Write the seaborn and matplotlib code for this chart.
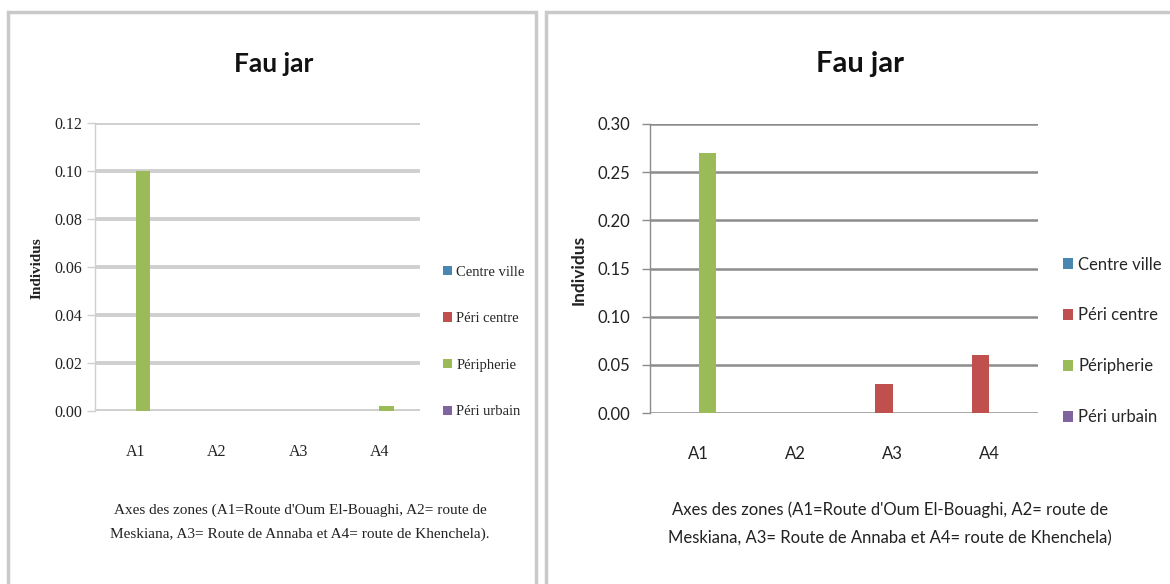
import numpy as np
import pandas as pd
import matplotlib
matplotlib.use("Agg")
import matplotlib.pyplot as plt
from matplotlib.patches import Rectangle, Patch
import seaborn as sns

# Zones along the x axis and the four residential series
zones = ["A1", "A2", "A3", "A4"]
series = ["Centre ville", "Péri centre", "Péripherie", "Péri urbain"]
colors = ["#4A86B2", "#C0504D", "#9BBB59", "#8064A2"]

# First chart (scale up to 0.12)
left_centre_ville = [0.0, 0.0, 0.0, 0.0]
left_peri_centre = [0.0, 0.0, 0.0, 0.0]
left_peripherie = [0.10, 0.0, 0.0, 0.002]
left_peri_urbain = [0.0, 0.0, 0.0, 0.0]
left_ticks = [0.00, 0.02, 0.04, 0.06, 0.08, 0.10, 0.12]

# Second chart (scale up to 0.30)
right_centre_ville = [0.0, 0.0, 0.0, 0.0]
right_peri_centre = [0.0, 0.0, 0.03, 0.06]
right_peripherie = [0.27, 0.0, 0.0, 0.0]
right_peri_urbain = [0.0, 0.0, 0.0, 0.0]
right_ticks = [0.00, 0.05, 0.10, 0.15, 0.20, 0.25, 0.30]

title = "Fau jar"
ylabel = "Individus"
xlabel = ("Axes des zones (A1=Route d'Oum El-Bouaghi, A2= route de\n"
          "Meskiana, A3= Route de Annaba et A4= route de Khenchela)")


def long_frame(cv, pc, pp, pu):
    rows = []
    for name, vals in zip(series, [cv, pc, pp, pu]):
        for z, v in zip(zones, vals):
            rows.append({"zone": z, "serie": name, "valeur": v})
    return pd.DataFrame(rows)


sns.set_style("white")
narrow = ["Liberation Sans Narrow", "Lato", "DejaVu Sans"]
serif = ["Liberation Serif", "DejaVu Serif"]
plt.rcParams["font.family"] = narrow

W, H = 1170, 584
fig = plt.figure(figsize=(W / 100, H / 100), dpi=100)
fig.patch.set_facecolor("white")

# Panel frames
fig.add_artist(Rectangle((8 / W, -0.05), (536 - 8) / W, 1.05 - 12 / H,
                         transform=fig.transFigure, fill=False,
                         edgecolor="#c9c9c9", lw=2.5))
fig.add_artist(Rectangle((546 / W, -0.05), (1185 - 546) / W, 1.05 - 12 / H,
                         transform=fig.transFigure, fill=False,
                         edgecolor="#c9c9c9", lw=2.5))


def draw_panel(ax, df, ticks, grid_color, grid_lw, fam, tick_size, ypad):
    sns.barplot(data=df, x="zone", y="valeur", hue="serie", hue_order=series,
                palette=colors, width=0.72, saturation=1, linewidth=0,
                legend=False, ax=ax)
    ax.set_ylim(ticks[0], ticks[-1])
    ax.set_yticks(ticks)
    ax.set_yticklabels([f"{t:.2f}" for t in ticks], family=fam,
                       fontsize=tick_size, color="#222222")
    ax.set_xticks(range(len(zones)))
    ax.set_xticklabels(zones, family=fam, fontsize=tick_size, color="#222222")
    ax.yaxis.grid(True, color=grid_color, lw=grid_lw)
    ax.set_axisbelow(True)
    for s in ["top", "right", "bottom"]:
        ax.spines[s].set_visible(False)
    ax.spines["left"].set_color(grid_color)
    ax.spines["left"].set_linewidth(1.0)
    ax.tick_params(axis="y", which="major", left=True, length=6,
                   color=grid_color, width=1.0, pad=ypad)
    ax.tick_params(axis="x", length=0, pad=24)
    ax.set_xlabel("")
    ax.set_ylabel("")


# Left chart
axL = fig.add_axes([95 / W, 1 - 411 / H, 325 / W, 288 / H])
draw_panel(axL, long_frame(left_centre_ville, left_peri_centre,
                           left_peripherie, left_peri_urbain),
           left_ticks, "#cfcfcf", 2.8, serif, 11.5, 3)

# Right chart
axR = fig.add_axes([650 / W, 1 - 413 / H, 388 / W, 289 / H])
draw_panel(axR, long_frame(right_centre_ville, right_peri_centre,
                           right_peripherie, right_peri_urbain),
           right_ticks, "#8c8c8c", 1.8, narrow, 12, 8)

# Titles
fig.text(274 / W, 1 - 64 / H, title, ha="center", va="center",
         fontsize=19, fontweight="bold", family=narrow, color="#111111")
fig.text(860 / W, 1 - 64 / H, title, ha="center", va="center",
         fontsize=21, fontweight="bold", family=narrow, color="#111111")

# Y labels
fig.text(37 / W, 1 - 268 / H, ylabel, rotation=90, ha="center", va="center",
         fontsize=11, fontweight="bold", family=serif, color="#222222")
fig.text(579 / W, 1 - 270 / H, ylabel, rotation=90, ha="center", va="center",
         fontsize=12.5, fontweight="bold", family=narrow, color="#222222")

# X labels
fig.text(300 / W, 1 - 522 / H, xlabel + ".", ha="center", va="center",
         fontsize=11, family=serif, color="#222222", linespacing=2.0,
         multialignment="center")
fig.text(890 / W, 1 - 524 / H, xlabel, ha="center", va="center",
         fontsize=12, family=narrow, color="#222222", linespacing=1.9,
         multialignment="center")

# Legends
handles = [Patch(facecolor=c, edgecolor="none") for c in colors]
axL.legend(handles, series, loc="center left",
           bbox_to_anchor=(443 / W, 1 - 342 / H), bbox_transform=fig.transFigure,
           frameon=False, handlelength=0.6, handleheight=0.6, handletextpad=0.3,
           borderpad=0, borderaxespad=0, labelspacing=2.3,
           prop={"family": serif, "size": 10.5})
axR.legend(handles, series, loc="center left",
           bbox_to_anchor=(1063 / W, 1 - 341 / H), bbox_transform=fig.transFigure,
           frameon=False, handlelength=0.6, handleheight=0.6, handletextpad=0.3,
           borderpad=0, borderaxespad=0, labelspacing=2.1,
           prop={"family": narrow, "size": 12})

fig.savefig("out.png", dpi=100, facecolor="white")
